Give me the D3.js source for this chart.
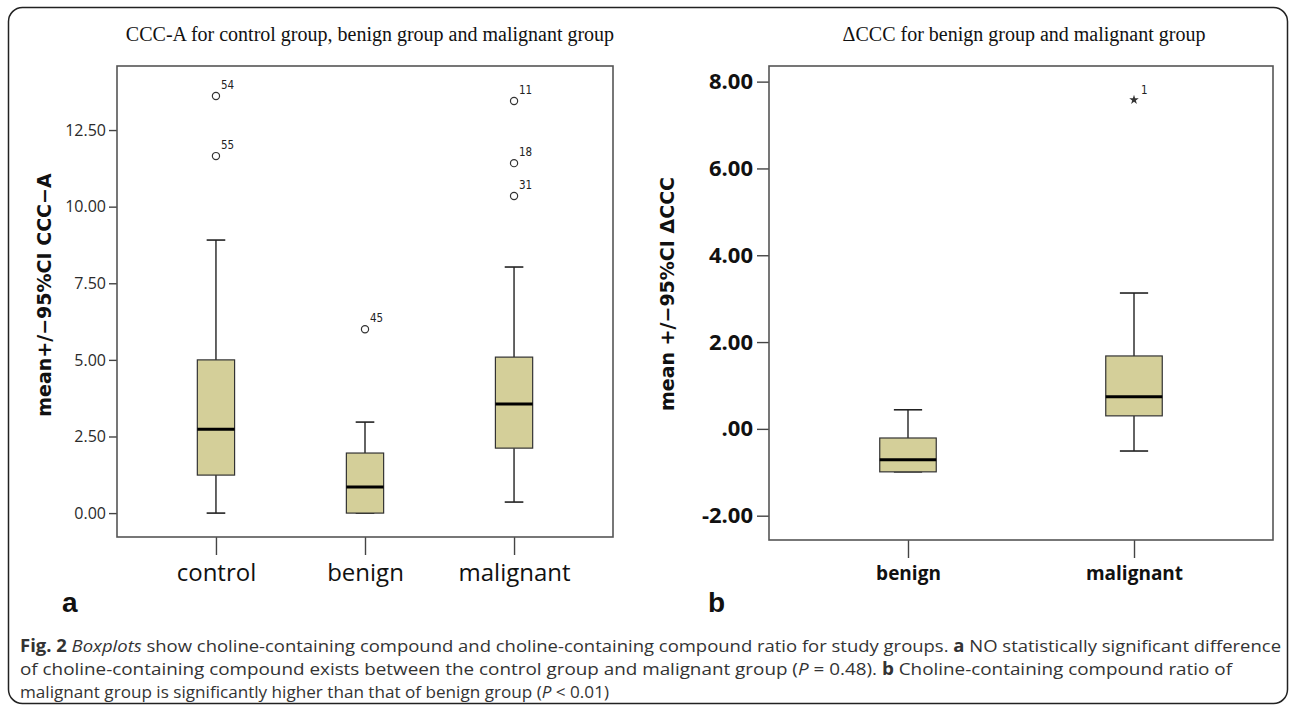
<!DOCTYPE html>
<html>
<head>
<meta charset="utf-8">
<script src="https://cdn.jsdelivr.net/npm/d3@7"></script>
<style>
  html, body { margin: 0; padding: 0; background: #fff; }
  svg { display: block; }
</style>
</head>
<body>
<script>
// ---------- DATA ----------
const leftCategories = ["control", "benign", "malignant"];
const leftWhiskerLow  = [0.00, 0.00, 0.36];
const leftQ1          = [1.24, 0.00, 2.12];
const leftMedian      = [2.74, 0.85, 3.56];
const leftQ3          = [5.00, 1.96, 5.09];
const leftWhiskerHigh = [8.91, 2.97, 8.03];
const leftOutlierCats   = ["control", "control", "benign", "malignant", "malignant", "malignant"];
const leftOutlierValues = [13.61, 11.65, 6.00, 13.45, 11.42, 10.35];
const leftOutlierLabels = ["54", "55", "45", "11", "18", "31"];
const leftTicks      = [0, 2.5, 5, 7.5, 10, 12.5];
const leftTickLabels = ["0.00", "2.50", "5.00", "7.50", "10.00", "12.50"];
const leftDomain     = [-0.78, 14.59];

const rightCategories = ["benign", "malignant"];
const rightWhiskerLow  = [-0.99, -0.51];
const rightQ1          = [-0.99, 0.30];
const rightMedian      = [-0.71, 0.74];
const rightQ3          = [-0.21, 1.68];
const rightWhiskerHigh = [0.44, 3.13];
const rightExtremeCats   = ["malignant"];
const rightExtremeValues = [7.58];
const rightExtremeLabels = ["1"];
const rightTicks      = [-2, 0, 2, 4, 6, 8];
const rightTickLabels = ["-2.00", ".00", "2.00", "4.00", "6.00", "8.00"];
const rightDomain     = [-2.56, 8.36];

// ---------- LAYOUT ----------
const W = 1295, H = 711;
const svg = d3.select("body").append("svg").attr("width", W).attr("height", H);

svg.append("rect")
  .attr("x", 8.5).attr("y", 7.5).attr("width", 1279).attr("height", 696)
  .attr("rx", 14).attr("ry", 14)
  .attr("fill", "none").attr("stroke", "#222").attr("stroke-width", 1.5);

const BOX_FILL = "#d4cf99";

function panel(cfg) {
  const g = svg.append("g");
  const x = d3.scalePoint().domain(cfg.categories).range([cfg.left, cfg.right]).padding(cfg.pad);
  const y = d3.scaleLinear().domain(cfg.domain).range([cfg.bottom, cfg.top]);
  const step = x.step();
  const bw = step * 0.25;
  const cw = bw * 0.5;

  // title
  g.append("text")
    .attr("x", cfg.titleX).attr("y", 41)
    .attr("text-anchor", "middle")
    .attr("font-family", "'Liberation Serif', 'Times New Roman', serif")
    .attr("font-size", 20).attr("fill", "#111")
    .text(cfg.title);

  // y axis
  const ya = g.append("g").attr("transform", `translate(${cfg.left},0)`)
    .call(d3.axisLeft(y).tickValues(cfg.ticks)
      .tickFormat((d, i) => cfg.tickLabels[i]).tickSize(cfg.yTickSize).tickPadding(cfg.yPad));
  ya.select(".domain").remove();
  ya.selectAll(".tick line").attr("stroke", "#444").attr("stroke-width", 1.4);
  ya.selectAll(".tick text")
    .attr("font-family", cfg.yFont).attr("font-size", cfg.yFontSize)
    .attr("font-weight", cfg.yWeight).attr("fill", cfg.yColor);

  // x axis
  const xa = g.append("g").attr("transform", `translate(0,${cfg.bottom})`)
    .call(d3.axisBottom(x).tickSize(18).tickPadding(cfg.xPad));
  xa.select(".domain").remove();
  xa.selectAll(".tick line").attr("stroke", "#444").attr("stroke-width", 1.4);
  xa.selectAll(".tick text")
    .attr("font-family", cfg.xFont).attr("font-size", cfg.xFontSize)
    .attr("font-weight", cfg.xWeight).attr("fill", "#111");

  // frame
  g.append("rect")
    .attr("x", cfg.left).attr("y", cfg.top)
    .attr("width", cfg.right - cfg.left).attr("height", cfg.bottom - cfg.top)
    .attr("fill", "none").attr("stroke", "#555").attr("stroke-width", 1.6);

  // y title
  g.append("text")
    .attr("transform", `translate(${cfg.yTitleX},${cfg.yTitleY}) rotate(-90)`)
    .attr("text-anchor", "middle")
    .attr("font-family", "'DejaVu Sans', sans-serif").attr("font-weight", "bold")
    .attr("font-size", cfg.yTitleSize).attr("fill", "#111")
    .text(cfg.yTitle);

  // boxes
  const data = cfg.categories.map((c, i) => ({
    c, lo: cfg.lo[i], q1: cfg.q1[i], med: cfg.med[i], q3: cfg.q3[i], hi: cfg.hi[i]
  }));
  const bg = g.selectAll("g.box").data(data).join("g").attr("class", "box");
  bg.append("line")
    .attr("x1", d => x(d.c)).attr("x2", d => x(d.c))
    .attr("y1", d => y(d.hi)).attr("y2", d => y(d.q3))
    .attr("stroke", "#222").attr("stroke-width", 1.4);
  bg.append("line")
    .attr("x1", d => x(d.c)).attr("x2", d => x(d.c))
    .attr("y1", d => y(d.q1)).attr("y2", d => y(d.lo))
    .attr("stroke", "#222").attr("stroke-width", 1.4);
  bg.append("line")
    .attr("x1", d => x(d.c) - cw / 2).attr("x2", d => x(d.c) + cw / 2)
    .attr("y1", d => y(d.hi)).attr("y2", d => y(d.hi))
    .attr("stroke", "#222").attr("stroke-width", 1.6);
  bg.append("line")
    .attr("x1", d => x(d.c) - cw / 2).attr("x2", d => x(d.c) + cw / 2)
    .attr("y1", d => y(d.lo)).attr("y2", d => y(d.lo))
    .attr("stroke", "#222").attr("stroke-width", 1.6);
  bg.append("rect")
    .attr("x", d => x(d.c) - bw / 2).attr("width", bw)
    .attr("y", d => y(d.q3)).attr("height", d => Math.max(0.5, y(d.q1) - y(d.q3)))
    .attr("fill", BOX_FILL).attr("stroke", "#333").attr("stroke-width", 1.2);
  bg.append("line")
    .attr("x1", d => x(d.c) - bw / 2).attr("x2", d => x(d.c) + bw / 2)
    .attr("y1", d => y(d.med)).attr("y2", d => y(d.med))
    .attr("stroke", "#000").attr("stroke-width", 3);

  // outliers
  const od = cfg.oCats.map((c, i) => ({ c, v: cfg.oVals[i], l: cfg.oLabels[i] }));
  const og = g.selectAll("g.out").data(od).join("g").attr("class", "out")
    .attr("transform", d => `translate(${x(d.c)},${y(d.v)})`);
  if (cfg.star) {
    og.append("path").attr("d", d3.symbol(d3.symbolStar).size(28)).attr("fill", "#333");
  } else {
    og.append("circle").attr("r", 3.6).attr("fill", "#fff").attr("stroke", "#333").attr("stroke-width", 1.2);
  }
  og.append("text").attr("x", cfg.star ? 7 : 5).attr("y", cfg.star ? -6 : -7)
    .attr("font-family", "'DejaVu Sans Condensed', 'DejaVu Sans', sans-serif")
    .attr("font-size", 11.5).attr("fill", "#222")
    .text(d => d.l);

  // panel letter
  g.append("text")
    .attr("x", cfg.letterX).attr("y", 612)
    .attr("font-family", "'Liberation Sans', Arial, sans-serif").attr("font-weight", "bold")
    .attr("font-size", 28).attr("fill", "#111")
    .text(cfg.letter);
}

panel({
  title: "CCC-A for control group, benign group and malignant group", titleX: 370,
  categories: leftCategories, lo: leftWhiskerLow, q1: leftQ1, med: leftMedian, q3: leftQ3, hi: leftWhiskerHigh,
  oCats: leftOutlierCats, oVals: leftOutlierValues, oLabels: leftOutlierLabels, star: false,
  ticks: leftTicks, tickLabels: leftTickLabels, domain: leftDomain,
  left: 117, right: 613, top: 66, bottom: 537, pad: 0.664,
  yTickSize: 8, yPad: 3, yFont: "'Open Sans', sans-serif", yFontSize: 16, yWeight: "normal", yColor: "#2a2a2a",
  xFont: "'Open Sans', sans-serif", xFontSize: 24, xWeight: "normal", xPad: 9,
  yTitle: "mean+/\u221295%CI CCC\u2212A", yTitleX: 51, yTitleY: 295, yTitleSize: 19,
  letter: "a", letterX: 62
});

panel({
  title: "\u0394CCC for benign group and malignant group", titleX: 1024,
  categories: rightCategories, lo: rightWhiskerLow, q1: rightQ1, med: rightMedian, q3: rightQ3, hi: rightWhiskerHigh,
  oCats: rightExtremeCats, oVals: rightExtremeValues, oLabels: rightExtremeLabels, star: true,
  ticks: rightTicks, tickLabels: rightTickLabels, domain: rightDomain,
  left: 769, right: 1273, top: 66, bottom: 540, pad: 0.615,
  yTickSize: 12, yPad: 4, yFont: "'Open Sans', sans-serif", yFontSize: 22, yWeight: "bold", yColor: "#111",
  xFont: "'Open Sans', sans-serif", xFontSize: 19, xWeight: "bold", xPad: 9,
  yTitle: "mean +/\u221295%CI \u0394CCC", yTitleX: 674, yTitleY: 294, yTitleSize: 19,
  letter: "b", letterX: 708
});

// ---------- CAPTION ----------
const capLines = [
  [["Fig. 2", "bold", "normal"], [" ", "normal", "normal"], ["Boxplots", "normal", "italic"],
   [" show choline-containing compound and choline-containing compound ratio for study groups. ", "normal", "normal"],
   ["a", "bold", "normal"], [" NO statistically significant difference", "normal", "normal"]],
  [["of choline-containing compound exists between the control group and malignant group (", "normal", "normal"],
   ["P", "normal", "italic"], [" = 0.48). ", "normal", "normal"], ["b", "bold", "normal"],
   [" Choline-containing compound ratio of", "normal", "normal"]],
  [["malignant group is significantly higher than that of benign group (", "normal", "normal"],
   ["P", "normal", "italic"], [" < 0.01)", "normal", "normal"]]
];
const capEnds = [1281, 1232, 609];
capLines.forEach((line, i) => {
  const t = svg.append("text")
    .attr("x", 20).attr("y", 652 + i * 23)
    .attr("font-family", "'Open Sans', sans-serif").attr("font-size", 17)
    .attr("fill", "#333")
    .attr("textLength", capEnds[i] - 20).attr("lengthAdjust", "spacingAndGlyphs")
    .attr("xml:space", "preserve");
  line.forEach(([s, w, st]) => {
    t.append("tspan").attr("font-weight", w).attr("font-style", st).text(s);
  });
});
</script>
</body>
</html>
